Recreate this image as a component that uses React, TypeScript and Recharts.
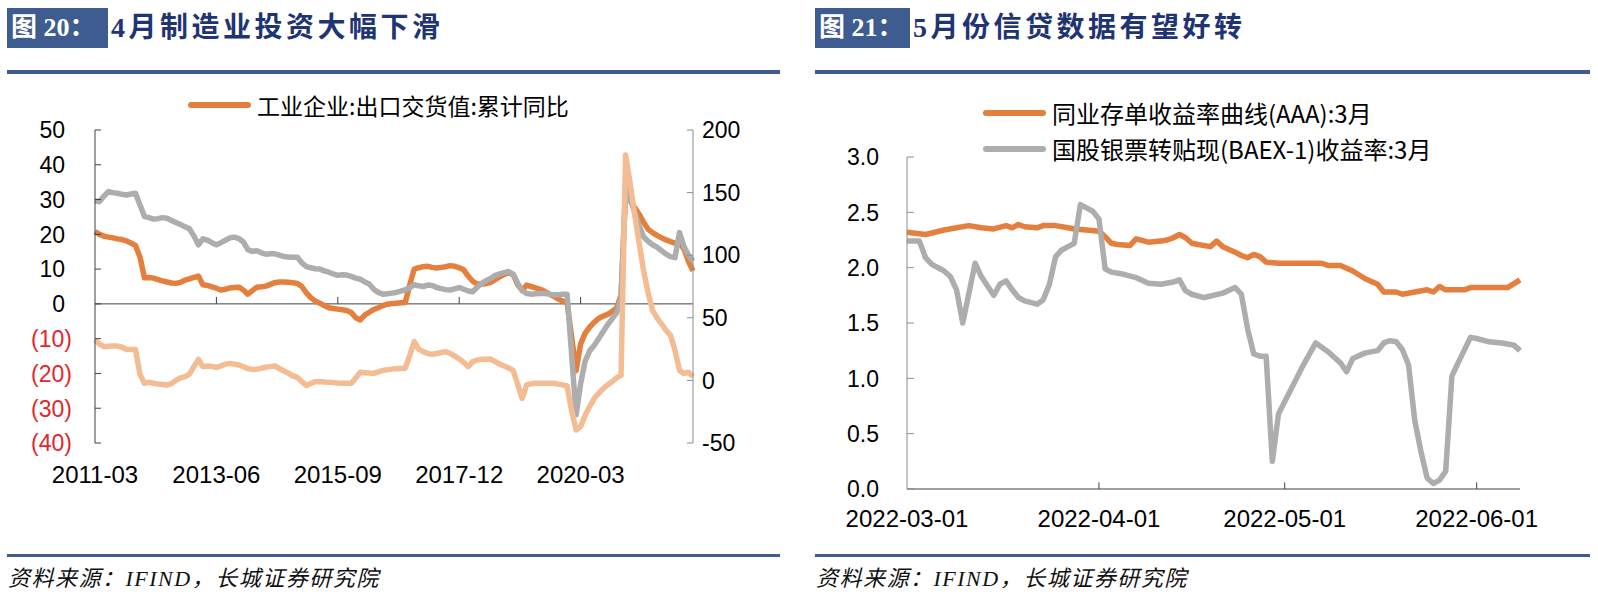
import React from 'react';
import { LineChart, Line, XAxis, YAxis, ReferenceLine } from 'recharts';

// ─── Colours & fonts ─────────────────────────────────────────────────────────
const BLUE   = '#3E5C8F';
const NAVY   = '#1F3573';
const ORANGE = '#E47F3E';
const GREY   = '#ADADAD';
const PEACH  = '#F3BC92';
const RED    = '#E3262B';
const AXIS_FONT  = "'Liberation Sans', Arial, sans-serif";
const CJK_FONT   = "'Noto Sans CJK SC', sans-serif";
const SERIF_FONT = "'Liberation Serif', 'Noto Sans CJK SC', serif";

// ─── Fig 20: monthly, 2011-03 .. 2022-04 ─────────────────────────────────────
const months = Array.from({ length: 134 }, (_, i) => {
  const t = 2011 * 12 + 2 + i;
  return `${Math.floor(t / 12)}-${String((t % 12) + 1).padStart(2, '0')}`;
});
const monthTicks = ['2011-03', '2013-06', '2015-09', '2017-12', '2020-03'];

// 工业企业:出口交货值:累计同比 (left axis)
const exportYoY = [
  20.8, 20.0, 19.5, 19.2, 19.0, 18.7, 18.5, 18.1, 17.5, 16.8,
  13.5, 7.5, 7.6, 7.4, 7.0, 6.6, 6.3, 6.0, 5.9, 6.2,
  6.8, 7.2, 7.6, 8.0, 5.5, 5.3, 4.9, 4.5, 4.0, 4.2,
  4.6, 4.7, 4.8, 4.0, 2.8, 3.8, 4.8, 4.9, 5.1, 5.6,
  6.1, 6.3, 6.3, 6.2, 6.1, 5.9, 5.0, 3.2, 1.8, 0.8,
  0.2, -0.5, -1.1, -1.3, -1.5, -1.7, -1.9, -2.5, -4.0, -4.6,
  -3.2, -2.4, -1.6, -1.1, -0.5, -0.1, 0.1, 0.2, 0.3, 0.4,
  5.5, 10.0, 10.4, 10.7, 10.8, 10.5, 10.3, 10.5, 10.7, 11.0,
  10.8, 10.4, 9.8, 8.0, 6.5, 5.7, 5.7, 5.8, 6.2, 7.0,
  7.8, 8.5, 8.9, 8.5, 5.5, 3.9, 5.4, 5.0, 4.6, 4.2,
  3.6, 2.9, 2.2, 1.4, 0.8, 0.4, -9.4, -19.2, -11.5, -8.5,
  -6.7, -5.3, -4.2, -3.5, -3.0, -2.2, -1.2, 2.5, 31.5, 29.8,
  27.8, 25.8, 23.5, 21.5, 20.5, 19.7, 19.0, 18.4, 17.9, 17.5,
  17.4, 15.8, 12.2, 9.5,
];
// grey series (left axis)
const greySeries = [
  29.6, 29.4, 31.0, 32.3, 32.0, 31.8, 31.5, 31.3, 31.6, 31.8,
  28.5, 25.1, 24.8, 24.4, 24.5, 24.8, 24.6, 24.0, 23.4, 22.8,
  22.2, 21.6, 19.5, 17.0, 18.7, 18.3, 17.6, 17.0, 17.6, 18.3,
  19.0, 19.2, 18.8, 17.8, 15.6, 15.1, 15.3, 14.7, 14.3, 14.4,
  14.4, 14.0, 13.6, 13.5, 13.4, 13.4, 11.8, 10.7, 10.4, 10.1,
  10.0, 9.5, 9.1, 8.6, 8.2, 8.4, 8.3, 7.9, 7.4, 7.1,
  6.3, 5.7, 4.2, 3.3, 2.8, 2.9, 3.1, 3.3, 3.7, 4.0,
  4.7, 5.5, 5.2, 5.0, 5.4, 5.3, 4.7, 4.4, 4.1, 4.0,
  4.3, 4.7, 4.2, 3.7, 3.5, 4.8, 5.9, 6.7, 7.3, 8.2,
  8.6, 9.0, 9.3, 8.5, 6.0, 3.8, 3.0, 2.8, 2.9, 3.0,
  3.0, 2.8, 2.6, 2.6, 2.8, 2.8, -14.5, -31.9, -23.0, -16.5,
  -13.5, -12.0, -10.0, -8.0, -6.0, -4.3, -2.6, 1.5, 34.0, 30.0,
  26.5, 22.5, 19.3, 18.0, 17.0, 16.3, 15.3, 14.3, 13.6, 13.3,
  20.5, 16.5, 14.0, 12.3,
];
// light orange series (right axis)
const peachSeries = [
  32.3, 29.0, 26.9, 27.2, 27.4, 27.4, 26.5, 24.7, 24.7, 24.7,
  5.0, -2.3, -1.5, -2.3, -2.8, -3.2, -3.6, -2.5, 0.0, 2.0,
  3.0, 5.0, 11.0, 16.8, 11.0, 11.5, 11.2, 10.4, 11.5, 13.0,
  13.6, 13.0, 12.3, 11.0, 9.4, 8.8, 9.0, 9.6, 10.5, 11.0,
  11.5, 9.5, 7.5, 5.8, 3.5, 2.5, -1.0, -4.1, -2.5, -1.0,
  -0.9, -1.3, -1.5, -1.7, -2.0, -2.2, -2.3, -2.3, 2.0, 6.5,
  6.2, 5.9, 5.7, 6.8, 8.0, 8.5, 9.0, 9.4, 9.6, 9.8,
  20.0, 31.0, 25.0, 23.0, 21.5, 20.8, 21.5, 22.3, 22.9, 21.5,
  19.5, 17.0, 14.5, 11.0, 15.0, 16.3, 16.8, 16.9, 17.0, 15.0,
  13.0, 11.5, 10.0, 8.0, -3.0, -14.3, -3.6, -2.6, -2.3, -2.3,
  -2.3, -2.3, -2.3, -3.0, -3.6, -4.5, -24.0, -39.6, -36.9, -28.0,
  -20.9, -14.5, -10.3, -6.5, -3.5, -1.0, 2.0, 4.0, 180.0, 158.0,
  133.0, 110.0, 88.0, 70.0, 56.0, 50.0, 45.0, 40.0, 36.0, 24.0,
  8.0, 5.5, 6.5, 3.0,
];
const leftTicks  = [50, 40, 30, 20, 10, 0, -10, -20, -30, -40];
const rightTicks = [200, 150, 100, 50, 0, -50];

const fig20Data = months.map((m, i) => ({
  m, exp: exportYoY[i], grey: greySeries[i], peach: peachSeries[i],
}));

// ─── Fig 21: daily, days since 2022-03-01 ────────────────────────────────────
const dayTicks  = [0, 31, 61, 92];
const dayLabels = ['2022-03-01', '2022-04-01', '2022-05-01', '2022-06-01'];
const rateTicks = [0, 0.5, 1, 1.5, 2, 2.5, 3];

// 同业存单收益率曲线(AAA):3月
const ncdDays = [0,3,6,8,10,12,14,16,17,18,19,21,22,24,26,27,29,31,32,33,34,36,37,39,41,42,43,44,45,46,47,49,50,51,53,54,55,56,57,58,60,65,67,68,70,72,74,76,77,79,80,82,84,85,86,87,90,91,97,99];
const ncdRate = [2.32,2.30,2.34,2.36,2.38,2.36,2.35,2.38,2.36,2.39,2.37,2.36,2.38,2.38,2.36,2.35,2.34,2.33,2.28,2.22,2.21,2.20,2.26,2.23,2.24,2.25,2.27,2.30,2.27,2.22,2.21,2.19,2.24,2.19,2.14,2.11,2.09,2.12,2.10,2.05,2.04,2.04,2.04,2.02,2.02,1.97,1.90,1.85,1.78,1.78,1.76,1.78,1.80,1.78,1.83,1.80,1.80,1.82,1.82,1.89];

// 国股银票转贴现(BAEX-1)收益率:3月
const billDays = [0,2,3,4,6,7,8,9,11,12,14,15,16,17,18,19,21,22,23,24,25,26,27,28,30,31,32,33,35,37,39,41,43,44,45,46,48,51,53,54,55,56,57,58,59,60,62,64,66,68,70,71,72,74,76,77,78,79,80,81,82,83,84,85,86,87,88,89,91,92,94,96,97,98,99];
const billRate = [2.24,2.24,2.09,2.03,1.97,1.92,1.80,1.50,2.04,1.92,1.75,1.85,1.88,1.80,1.73,1.70,1.67,1.71,1.85,2.10,2.16,2.19,2.22,2.57,2.51,2.44,1.99,1.96,1.94,1.91,1.86,1.85,1.87,1.89,1.79,1.76,1.73,1.77,1.82,1.76,1.45,1.22,1.20,1.20,0.25,0.68,0.90,1.12,1.32,1.24,1.14,1.06,1.18,1.23,1.25,1.32,1.34,1.33,1.26,1.12,0.62,0.34,0.10,0.05,0.08,0.16,1.02,1.14,1.37,1.36,1.33,1.32,1.31,1.30,1.25];

const ncdData  = ncdDays.map((d, i) => ({ d, v: ncdRate[i] }));
const billData = billDays.map((d, i) => ({ d, v: billRate[i] }));

// ─── Tick renderers ──────────────────────────────────────────────────────────
const txt = (size: number): React.SVGProps<SVGTextElement> => ({ fontSize: size, fontFamily: AXIS_FONT });

// left axis of fig 20: accounting style, negatives red in parentheses, tick marks inward
const LeftTick = (p: any) => {
  const v = p.payload.value as number;
  const neg = v < 0;
  return (
    <g>
      <line x1={p.x + 23} x2={p.x + 29} y1={p.y} y2={p.y} stroke="#404040" />
      <text x={neg ? p.x : p.x - 7} y={p.y} dy="0.36em" textAnchor="end" fill={neg ? RED : '#000'} {...txt(23)}>
        {neg ? `(${Math.abs(v)})` : v}
      </text>
    </g>
  );
};
const RightTick = (p: any) => (
  <g>
    <line x1={p.x - 15} x2={p.x - 9} y1={p.y} y2={p.y} stroke="#8C8C8C" />
    <text x={p.x} y={p.y} dy="0.36em" textAnchor="start" fill="#000" {...txt(23)}>{p.payload.value}</text>
  </g>
);
const BottomTick = (p: any) => (
  <text x={p.x} y={p.y} dy="0.36em" textAnchor="middle" fill="#000" {...txt(24)}>{p.payload.value}</text>
);
const RateTick = (p: any) => (
  <g>
    <line x1={p.x + 28} x2={p.x + 35} y1={p.y} y2={p.y} stroke="#8C8C8C" />
    <text x={p.x} y={p.y} dy="0.36em" textAnchor="end" fill="#000" {...txt(23)}>{Number(p.payload.value).toFixed(1)}</text>
  </g>
);
const DateTick = (p: any) => (
  <text x={p.x} y={p.y} dy="0.36em" textAnchor="middle" fill="#000" {...txt(24)}>
    {dayLabels[dayTicks.indexOf(p.payload.value)]}
  </text>
);

// ─── Page furniture ──────────────────────────────────────────────────────────
const abs = (left: number, top: number, extra: React.CSSProperties = {}): React.CSSProperties => ({
  position: 'absolute', left, top, ...extra,
});

function Header({ x, boxW, no, title, ruleW }: { x: number; boxW: number; no: string; title: string; ruleW: number }) {
  return (
    <>
      <div style={abs(x, 8, {
        width: boxW, height: 40, background: BLUE, color: 'white', fontFamily: SERIF_FONT,
        fontWeight: 700, fontSize: 26, lineHeight: '40px', paddingLeft: 4, boxSizing: 'border-box', whiteSpace: 'nowrap',
      })}>{no}</div>
      <div style={abs(x + boxW + 3, 8, {
        height: 40, lineHeight: '40px', color: NAVY, fontFamily: SERIF_FONT, fontWeight: 700,
        fontSize: 28, letterSpacing: 3.5, whiteSpace: 'nowrap',
      })}>{title}</div>
      <div style={abs(x, 70, { width: ruleW, height: 4, background: BLUE })} />
      <div style={abs(x, 554, { width: ruleW, height: 3, background: BLUE })} />
      <div style={abs(x + 1, 560, {
        fontFamily: SERIF_FONT, fontStyle: 'italic', fontSize: 22, letterSpacing: 1.5, color: '#111', whiteSpace: 'nowrap',
      })}>资料来源：IFIND，长城证券研究院</div>
    </>
  );
}

function LegendRow({ x, y, color, label, size }: { x: number; y: number; color: string; label: string; size: number }) {
  return (
    <>
      <div style={abs(x, y - 3, { width: 63, height: 6, borderRadius: 3, background: color })} />
      <div style={abs(x + 69, y - 17, {
        height: 34, lineHeight: '34px', fontFamily: CJK_FONT, fontSize: size, color: '#000', whiteSpace: 'nowrap',
      })}>{label}</div>
    </>
  );
}

export default function App() {
  return (
    <div style={{ position: 'absolute', left: 0, top: 0, width: 1598, height: 600, background: 'white', overflow: 'hidden' }}>
      {/* ── 图 20 ─────────────────────────────────────────────────────────── */}
      <Header x={7} boxW={101} no="图 20：" title="4月制造业投资大幅下滑" ruleW={773} />
      <LegendRow x={188} y={105} color={ORANGE} label="工业企业:出口交货值:累计同比" size={23} />

      <div style={abs(0, 80)}>
        <LineChart width={780} height={420} data={fig20Data} margin={{ top: 50, right: 0, bottom: 0, left: 0 }}>
          <XAxis dataKey="m" scale="point" padding={{ left: 0, right: 0 }} ticks={monthTicks} interval={0}
            axisLine={false} tickLine={false} tickSize={0} tickMargin={31} height={57} tick={BottomTick} />
          <YAxis yAxisId="L" orientation="left" width={95} domain={[-40, 50]} ticks={leftTicks} interval={0}
            axisLine={{ stroke: '#404040' }} tickLine={false} tickSize={0} tickMargin={23} tick={LeftTick} />
          <YAxis yAxisId="R" orientation="right" width={87} domain={[-50, 200]} ticks={rightTicks} interval={0}
            axisLine={{ stroke: '#8C8C8C' }} tickLine={false} tickSize={0} tickMargin={9} tick={RightTick} />
          <ReferenceLine yAxisId="L" y={0} stroke="#404040" strokeWidth={1} />
          {monthTicks.slice(1).map(t => (
            <ReferenceLine key={t} yAxisId="L" segment={[{ x: t, y: 0 }, { x: t, y: 2 }]} stroke="#404040" />
          ))}
          <Line yAxisId="L" dataKey="exp"   stroke={ORANGE} strokeWidth={5.5} dot={false} isAnimationActive={false} strokeLinejoin="round" />
          <Line yAxisId="L" dataKey="grey"  stroke={GREY}   strokeWidth={5.5} dot={false} isAnimationActive={false} strokeLinejoin="round" />
          <Line yAxisId="R" dataKey="peach" stroke={PEACH}  strokeWidth={5.5} dot={false} isAnimationActive={false} strokeLinejoin="round" />
        </LineChart>
      </div>

      {/* ── 图 21 ─────────────────────────────────────────────────────────── */}
      <Header x={815} boxW={95} no="图 21：" title="5月份信贷数据有望好转" ruleW={775} />
      <LegendRow x={983} y={113} color={ORANGE} label="同业存单收益率曲线(AAA):3月" size={24} />
      <LegendRow x={983} y={149} color={GREY} label="国股银票转贴现(BAEX-1)收益率:3月" size={24} />

      <div style={abs(815, 100)}>
        <LineChart width={775} height={440} margin={{ top: 57, right: 70, bottom: 0, left: 0 }}>
          <XAxis dataKey="d" type="number" domain={[0, 99]} ticks={dayTicks} interval={0} allowDuplicatedCategory={false}
            axisLine={{ stroke: '#404040' }} tickLine={false} tickSize={0} tickMargin={29} height={51} tick={DateTick} />
          <YAxis width={92} domain={[0, 3]} ticks={rateTicks} interval={0}
            axisLine={{ stroke: '#8C8C8C' }} tickLine={false} tickSize={0} tickMargin={28} tick={RateTick} />
          {dayTicks.slice(1).map(t => (
            <ReferenceLine key={t} segment={[{ x: t, y: 0 }, { x: t, y: 0.06 }]} stroke="#404040" />
          ))}
          <Line data={ncdData}  dataKey="v" stroke={ORANGE} strokeWidth={5.5} dot={false} isAnimationActive={false} strokeLinejoin="round" />
          <Line data={billData} dataKey="v" stroke={GREY}   strokeWidth={5.5} dot={false} isAnimationActive={false} strokeLinejoin="round" />
        </LineChart>
      </div>
    </div>
  );
}
